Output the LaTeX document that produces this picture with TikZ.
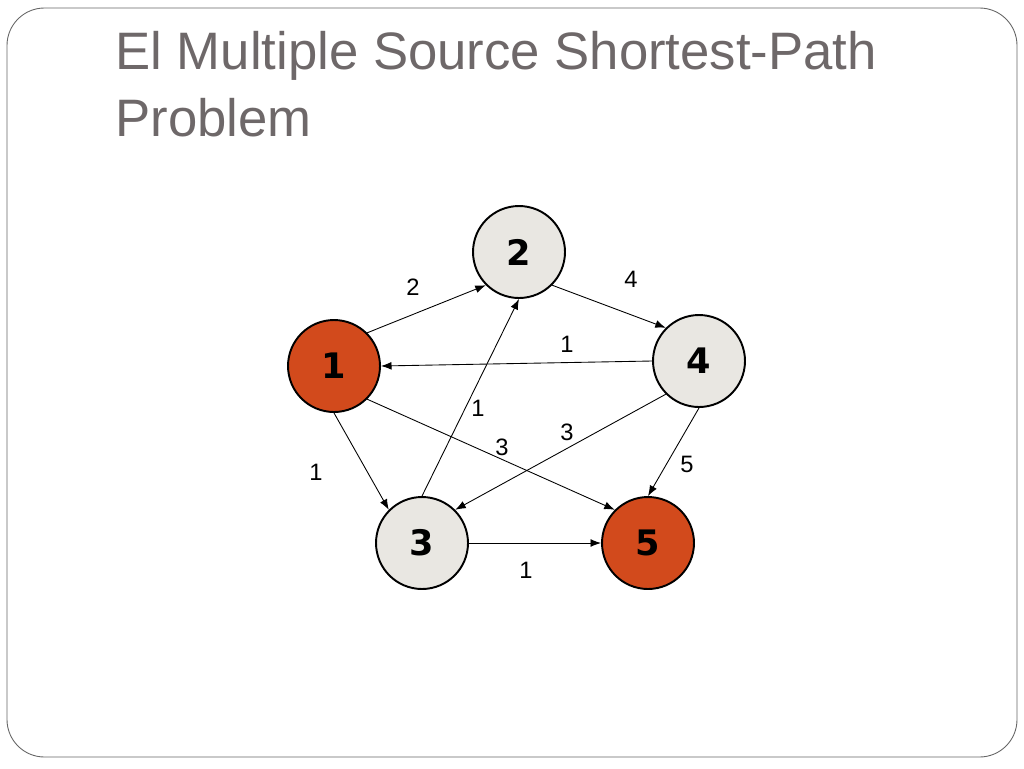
\documentclass[tikz,border=0pt]{standalone}
\usepackage{fontspec}
\setmainfont{Liberation Sans}
\newfontfamily\numfont{DejaVu Sans}
\usetikzlibrary{arrows.meta}

\definecolor{slidegray}{RGB}{110,104,105}
\definecolor{nodegray}{RGB}{233,231,226}
\definecolor{nodered}{RGB}{210,74,28}

\tikzset{
  vertex/.style={circle, draw=black, line width=1.1pt, minimum size=1.84cm,
    inner sep=0pt, font=\numfont\bfseries\fontsize{20}{22}\selectfont},
  grayv/.style={vertex, fill=nodegray},
  redv/.style={vertex, fill=nodered},
  edge/.style={-{Latex[length=6pt,width=4.5pt]}, line width=0.5pt},
  weight/.style={font=\fontsize{13.5}{15}\selectfont}
}

\begin{document}
\begin{tikzpicture}[x=0.02cm, y=-0.02cm]
    % Slide frame
    \useasboundingbox (0,0) rectangle (1024,768);
    \draw[gray!80!black, line width=0.5pt, rounded corners=0.75cm] (7,8) rectangle (1017,757);

    % Title
    \node[anchor=base west, text=slidegray, font=\fontsize{30}{38}\selectfont,
          align=left, inner sep=0pt] (title) at (115,136)
          {El Multiple Source Shortest-Path\\Problem};

    % Vertices
    \node[redv]  (n1) at (334,366) {1};
    \node[grayv] (n2) at (519,252) {2};
    \node[grayv] (n3) at (422,543) {3};
    \node[grayv] (n4) at (699,361) {4};
    \node[redv]  (n5) at (648,543) {5};

    % Edges
    \draw[edge] (n1.north east) -- (n2.south west);
    \draw[edge] (n2.south east) -- (n4.north west);
    \draw[edge] (n4.west) -- (n1.east);
    \draw[edge] (n1.south) -- (n3.north west);
    \draw[edge] (n1.south east) -- (n5.north west);
    \draw[edge] (n3.north) -- (n2.south);
    \draw[edge] (n4.south west) -- (n3.north east);
    \draw[edge] (n4.south) -- (n5.north);
    \draw[edge] (n3.east) -- (n5.west);

    % Weights
    \node[weight] (w12) at (413,287) {2};
    \node[weight] (w24) at (631,279) {4};
    \node[weight] (w41) at (567,344) {1};
    \node[weight] (w32) at (478,408) {1};
    \node[weight] (w15) at (502,447) {3};
    \node[weight] (w43) at (567,432) {3};
    \node[weight] (w45) at (687,464) {5};
    \node[weight] (w13) at (316,472) {1};
    \node[weight] (w35) at (526,570) {1};
\end{tikzpicture}
\end{document}
